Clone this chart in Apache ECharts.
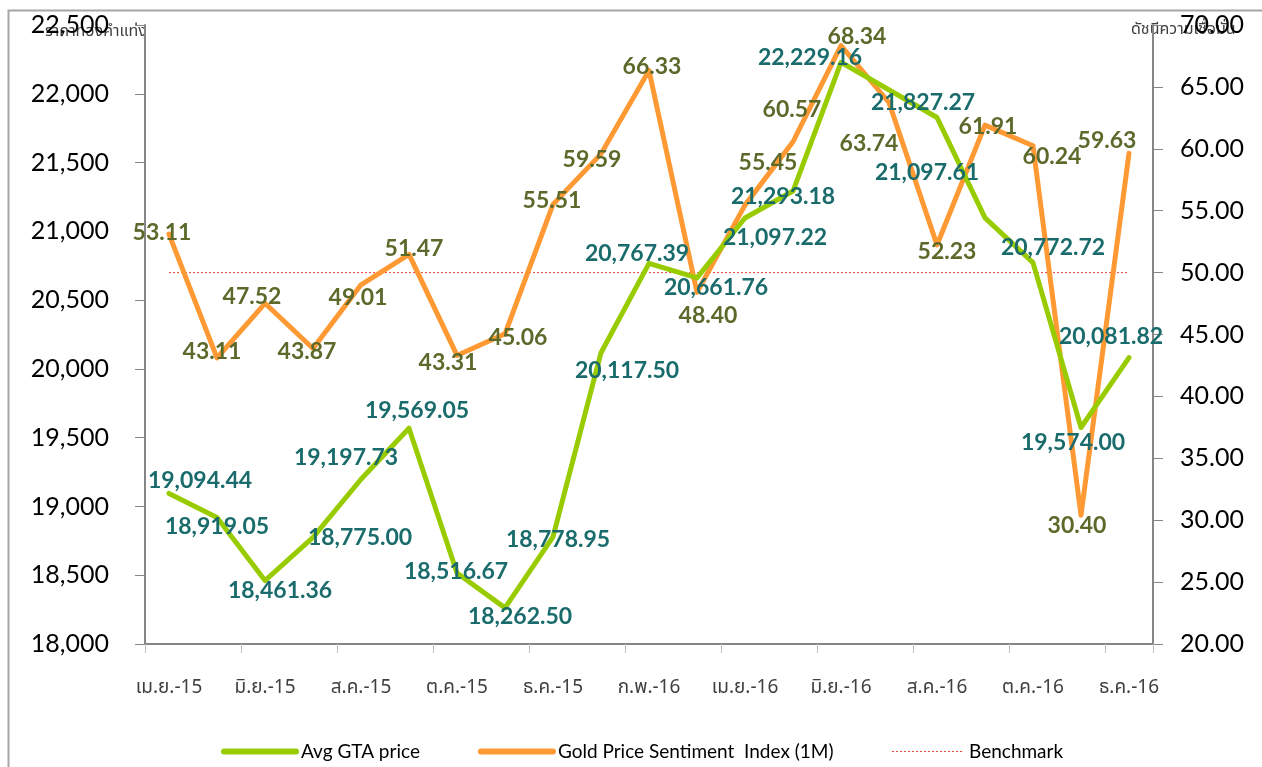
<!DOCTYPE html>
<html>
<head>
<meta charset="utf-8">
<script src="https://cdn.jsdelivr.net/npm/echarts@6/dist/echarts.min.js"></script>
<style>
html,body{margin:0;padding:0;background:#fff;}
#c{width:1262px;height:767px;}
</style>
</head>
<body>
<div id="c"></div>
<script>
const categories = ['เม.ย.-15','พ.ค.-15','มิ.ย.-15','ก.ค.-15','ส.ค.-15','ก.ย.-15','ต.ค.-15','พ.ย.-15','ธ.ค.-15','ม.ค.-16','ก.พ.-16','มี.ค.-16','เม.ย.-16','พ.ค.-16','มิ.ย.-16','ก.ค.-16','ส.ค.-16','ก.ย.-16','ต.ค.-16','พ.ย.-16','ธ.ค.-16'];
const avgGtaPrice = [19094.44, 18919.05, 18461.36, 18775.00, 19197.73, 19569.05, 18516.67, 18262.50, 18778.95, 20117.50, 20767.39, 20661.76, 21097.22, 21293.18, 22229.16, null, 21827.27, 21097.61, 20772.72, 19574.00, 20081.82];
const sentimentIndex = [53.11, 43.11, 47.52, 43.87, 49.01, 51.47, 43.31, 45.06, 55.51, 59.59, 66.33, 48.40, 55.45, 60.57, 68.34, 63.74, 52.23, 61.91, 60.24, 30.40, 59.63];
const benchmark = [50, 50, 50, 50, 50, 50, 50, 50, 50, 50, 50, 50, 50, 50, 50, 50, 50, 50, 50, 50, 50];
const leftAxisName = 'ราคาทองคำแท่ง';
const rightAxisName = 'ดัชนีความเชื่อมั่น';

// label placement offsets (pixels from point)
const greenLabelOffsets = [[31,-13],[0,9],[15,10],[47,0],[-15,-22],[8,-18],[-1,-1],[15,9],[5,3],[26,18],[-12,-10],[19,10],[30,20],[-10,6],[-31,-5],null,[-14,-15],[-58,-45],[20,-15],[-8,15],[-18,-21]];
const orangeLabelOffsets = [[-7,-2],[-5,-6],[-13,-7],[-6,3],[-3,13],[5,-6],[-9,7],[13,4],[-1,-4],[-9,6],[3,-4],[11,23],[23,-43],[-1,-32],[16,-9],[-20,41],[10,7],[3,1],[19,11],[-4,10],[-22,-13]];

const thaiFont = '"Noto Sans Thai", "Noto Sans", "DejaVu Sans", sans-serif';
const numFont = 'Lato, "Open Sans", sans-serif';

function fmtComma(v){ return v.toLocaleString('en-US',{minimumFractionDigits:2, maximumFractionDigits:2}); }

const greenData = avgGtaPrice.map((v,i)=>({
  value: v,
  label: greenLabelOffsets[i] ? {offset: greenLabelOffsets[i]} : {show:false}
}));
const orangeData = sentimentIndex.map((v,i)=>({
  value: v,
  label: {offset: orangeLabelOffsets[i]}
}));

const chart = echarts.init(document.getElementById('c'), null, {renderer:'canvas'});
chart.setOption({
  animation: false,
  backgroundColor: '#fff',
  grid: {left: 145, right: 109, top: 25, bottom: 123, containLabel: false},
  graphic: [
    {type:'rect', left: 6, top: 8, shape:{width: 1400, height: 900}, style:{fill:'none', stroke:'#a6a6a6', lineWidth: 2}, silent: true, z: -1},
    {type:'text', left: 45, top: 25, style:{text: leftAxisName, font: '16px ' + thaiFont, fill:'#404040'}},
    {type:'text', left: 1131, top: 23, style:{text: rightAxisName, font: '16px ' + thaiFont, fill:'#404040'}}
  ],
  legend: {
    left: 216, top: 737,
    itemWidth: 72, itemHeight: 12, itemGap: 58,
    itemStyle: {opacity: 0},
    textStyle: {fontFamily: numFont, fontSize: 19, color: '#000'},
    data: [
      {name: 'Avg GTA price', lineStyle: {width: 6, cap: 'round', color: '#99CC00'}},
      {name: 'Gold Price Sentiment  Index (1M)', lineStyle: {width: 6, cap: 'round', color: '#FF9933'}},
      {name: 'Benchmark', lineStyle: {width: 1, color: '#E8443A', type: [2, 2]}}
    ]
  },
  xAxis: {
    type: 'category',
    data: categories,
    boundaryGap: true,
    axisLine: {lineStyle: {color: '#868686', width: 2}},
    axisTick: {show: true, interval: 1, length: 9, lineStyle: {color: '#bfbfbf', width: 1}},
    axisLabel: {interval: 1, margin: 36, fontFamily: thaiFont, fontSize: 19, color: '#404040'},
    splitLine: {show: false}
  },
  yAxis: [
    {
      type: 'value', min: 18000, max: 22500, interval: 500, position: 'left',
      axisLine: {show: true, lineStyle: {color: '#868686', width: 2}},
      axisTick: {show: true, length: 10, lineStyle: {color: '#868686'}},
      axisLabel: {margin: 36, fontFamily: numFont, fontSize: 25, color: '#000',
        formatter: v => v.toLocaleString('en-US')},
      splitLine: {show: false}
    },
    {
      type: 'value', min: 20, max: 70, interval: 5, position: 'right',
      axisLine: {show: true, lineStyle: {color: '#868686', width: 2}},
      axisTick: {show: true, length: 10, lineStyle: {color: '#868686'}},
      axisLabel: {margin: 27, fontFamily: numFont, fontSize: 25, color: '#000',
        formatter: v => v.toFixed(2)},
      splitLine: {show: false}
    }
  ],
  series: [
    {
      name: 'Avg GTA price', type: 'line', yAxisIndex: 0,
      data: greenData, connectNulls: true,
      symbol: 'circle', symbolSize: 1,
      itemStyle: {color: '#99CC00'},
      lineStyle: {color: '#99CC00', width: 5, cap: 'round', join: 'round'},
      label: {show: true, position: 'inside', fontFamily: numFont, fontWeight: 'bold', fontSize: 23, color: '#1A6B6B',
        formatter: p => fmtComma(p.value)},
      z: 3
    },
    {
      name: 'Gold Price Sentiment  Index (1M)', type: 'line', yAxisIndex: 1,
      data: orangeData,
      symbol: 'circle', symbolSize: 1,
      itemStyle: {color: '#FF9933'},
      lineStyle: {color: '#FF9933', width: 5, cap: 'round', join: 'round'},
      label: {show: true, position: 'inside', fontFamily: numFont, fontWeight: 'bold', fontSize: 23, color: '#5B6A2B',
        formatter: p => p.value.toFixed(2)},
      z: 2
    },
    {
      name: 'Benchmark', type: 'line', yAxisIndex: 1,
      data: benchmark,
      symbol: 'none',
      itemStyle: {color: '#FF0000'},
      lineStyle: {color: '#E8443A', width: 1, type: [2, 2]},
      z: 1
    }
  ]
});
</script>
</body>
</html>
